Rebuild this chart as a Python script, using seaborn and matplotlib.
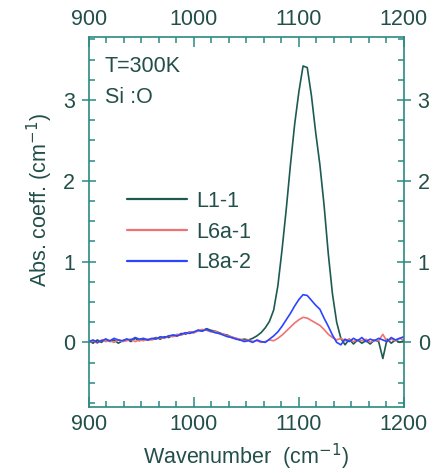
import numpy as np
import pandas as pd
import matplotlib
matplotlib.use("Agg")
import matplotlib.pyplot as plt
from matplotlib.ticker import MultipleLocator
import seaborn as sns

# --- Data (4 cm^-1 grid) ---
wavenumber = np.arange(900, 1201, 4)

l1_1 = [0.02, -0.01, 0.03, 0.00, 0.04, 0.01, 0.03, -0.01, 0.02, 0.04, 0.01, 0.05, 0.02, 0.04, 0.03,
        0.04, 0.06, 0.04, 0.07, 0.06, 0.09, 0.08, 0.11, 0.10, 0.13, 0.12, 0.15, 0.14, 0.17, 0.15,
        0.14, 0.12, 0.10, 0.09, 0.06, 0.05, 0.03, 0.04,
        0.03, 0.05, 0.08, 0.12, 0.18, 0.26, 0.40, 0.70, 1.15, 1.65,
        2.20, 2.70, 3.10, 3.42, 3.40, 3.05, 2.60, 2.20, 1.70, 1.10,
        0.60, 0.25, 0.05, -0.03, 0.04, -0.02, 0.03, -0.01, 0.02, -0.02,
        0.03, 0.01, -0.20, 0.04, -0.01, 0.03, 0.00, 0.02]

l6a_1 = [0.00, 0.02, -0.01, 0.03, 0.01, 0.02, 0.00, 0.03, 0.01, 0.02, 0.04, 0.01, 0.03, 0.02, 0.04,
         0.03, 0.05, 0.06, 0.05, 0.08, 0.07, 0.10, 0.09, 0.11, 0.13, 0.12, 0.14, 0.16, 0.15, 0.13,
         0.14, 0.11, 0.10, 0.08, 0.07, 0.05, 0.04, 0.02,
         0.03, 0.01, 0.02, 0.00, 0.01, 0.03, 0.02, 0.05, 0.09, 0.14,
         0.19, 0.24, 0.28, 0.31, 0.30, 0.27, 0.24, 0.21, 0.16, 0.10,
         0.06, 0.03, 0.05, 0.02, 0.04, 0.01, 0.03, 0.02, 0.04, 0.00,
         0.03, 0.02, 0.10, 0.01, 0.04, 0.02, 0.05, 0.03]

l8a_2 = [0.01, 0.03, 0.00, 0.02, 0.04, 0.02, 0.05, 0.03, 0.02, 0.04, 0.03, 0.06, 0.04, 0.05, 0.03,
         0.05, 0.04, 0.07, 0.06, 0.08, 0.09, 0.08, 0.10, 0.12, 0.11, 0.13, 0.15, 0.14, 0.16, 0.14,
         0.12, 0.11, 0.09, 0.07, 0.06, 0.04, 0.03, 0.01,
         0.02, 0.00, 0.03, 0.01, 0.00, 0.04, 0.08, 0.13, 0.20, 0.28,
         0.36, 0.45, 0.53, 0.59, 0.58, 0.52, 0.46, 0.41, 0.30, 0.20,
         0.09, 0.00, -0.03, 0.04, 0.01, 0.05, 0.02, 0.06, 0.01, 0.04,
         0.02, 0.05, 0.03, 0.01, 0.06, 0.03, 0.05, 0.07]

samples = ["L1-1", "L6a-1", "L8a-2"]
colors  = ["#1d5a50", "#f07272", "#2a44ff"]

df = pd.concat([
    pd.DataFrame({"wavenumber": wavenumber, "abs": vals, "sample": name})
    for name, vals in zip(samples, [l1_1, l6a_1, l8a_2])
])

# --- Style ---
sns.set_style("ticks")
plt.rcParams["font.family"] = ["Liberation Sans", "DejaVu Sans"]
ink   = "#234f4a"
frame = "#2a8a82"
fs    = 15.5

fig = plt.figure(figsize=(4.38, 4.73), dpi=100)
ax = fig.add_axes([0.203, 0.1395, 0.719, 0.7825])

sns.lineplot(data=df, x="wavenumber", y="abs", hue="sample",
             palette=dict(zip(samples, colors)), lw=1.2, ax=ax,
             estimator=None, sort=False)

ax.set_xlim(900, 1200)
ax.set_ylim(-0.8, 3.78)
ax.xaxis.set_major_locator(MultipleLocator(100))
ax.xaxis.set_minor_locator(MultipleLocator(100 / 6))
ax.yaxis.set_major_locator(MultipleLocator(1))
ax.yaxis.set_minor_locator(MultipleLocator(0.25))

for sp in ax.spines.values():
    sp.set_visible(True)
    sp.set_color(frame)
    sp.set_linewidth(1.2)

ax.tick_params(which="both", direction="in", top=True, right=True,
               labeltop=True, labelright=True, color=frame,
               labelcolor=ink, labelsize=fs, width=1.1)
ax.tick_params(which="major", length=7, pad=5)
ax.tick_params(which="minor", length=4)
ax.tick_params(axis="y", which="major", direction="inout", length=10)

ax.set_xlabel("Wavenumber  (cm$^{-1}$)", fontsize=fs, color=ink, labelpad=5)
ax.set_ylabel("Abs. coeff. (cm$^{-1}$)", fontsize=fs, color=ink)
ax.yaxis.set_label_coords(-0.108, 0.56)

ax.text(0.05, 0.92, "T=300K", transform=ax.transAxes, fontsize=fs,
        color=ink, va="center", ha="left")
ax.text(0.05, 0.835, "Si :O", transform=ax.transAxes, fontsize=fs,
        color=ink, va="center", ha="left")

leg = ax.legend(loc="upper left", bbox_to_anchor=(0.06, 0.636), frameon=False,
                fontsize=fs, handlelength=2.8, handletextpad=0.4,
                labelspacing=0.45)
for t in leg.get_texts():
    t.set_color(ink)
for h in leg.get_lines():
    h.set_linewidth(1.6)

fig.savefig("out.png", dpi=100)
